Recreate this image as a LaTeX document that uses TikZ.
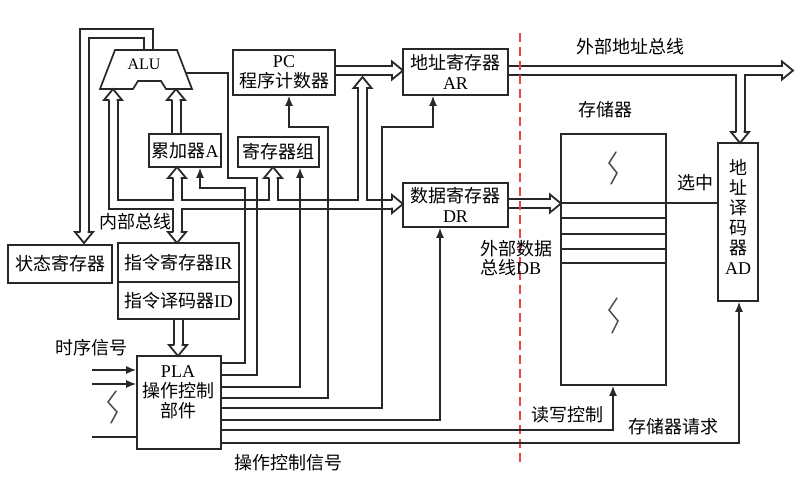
\documentclass[tikz,border=0pt]{standalone}
\usepackage{fontspec}
\setmainfont{Noto Sans CJK SC}
\newfontfamily\lat{Liberation Serif}
\usetikzlibrary{arrows.meta,calc}
\definecolor{dashred}{RGB}{232,70,70}
\definecolor{ink}{RGB}{40,40,40}
\tikzset{
  busarrow/.pic={
    \fill[white] (0pt,0pt) -- (-11pt,9pt) -- (-11pt,-9pt) -- cycle;
    \draw[ink, line width=1.8pt, line join=miter] (-11pt,3.6pt) -- (-11pt,9pt) -- (0pt,0pt) -- (-11pt,-9pt) -- (-11pt,-3.6pt);
  }
}
\begin{document}
\begin{tikzpicture}[x=1pt,y=-1pt,
  box/.style={draw=ink, line width=1.7pt, fill=white, inner sep=0pt, align=center,
              font=\fontsize{18}{20}\selectfont},
  ctl/.style={draw=ink, line width=1.5pt},
  carrow/.style={ctl, -{Latex[length=10pt,width=8pt]}},
  lbl/.style={inner sep=0pt, align=center, font=\fontsize{18}{20}\selectfont},
  lbll/.style={lbl, align=left, anchor=west},
  busblack/.style={line width=11pt, draw=ink},
  buswhite/.style={line width=7pt, draw=white},
  squig/.style={draw=black!70, line width=1.5pt, line cap=round}
]
\useasboundingbox (0,0) rectangle (800,479);

% ---------- hollow buses (outer black, then inner white) ----------
\foreach \s in {busblack,buswhite}{
  \draw[\s] (148.5,52) -- (148.5,33.5) -- (84,33.5) -- (84,232);      % ALU -> status register
  \draw[\s] (113,100) -- (113,204) -- (392,204);                       % internal bus -> DR
  \draw[\s] (177,178) -- (177,232);                                   % bus <-> acc / IR
  \draw[\s] (176,140) -- (176,100);                                   % acc -> ALU
  \draw[\s] (273,204) -- (273,178);                                   % bus -> register file
  \draw[\s] (362.5,204) -- (362.5,88);                                % bus -> AR bus
  \draw[\s] (325,70.5) -- (392,70.5);                                 % PC -> AR
  \draw[\s] (500,70.5) -- (782,70.5);                                 % external address bus
  \draw[\s] (740,70.5) -- (740,132);                                  % -> AD
  \draw[\s] (500,203.5) -- (550,203.5);                               % DR -> memory
  \draw[\s] (178,310) -- (178,345);                                   % ID -> PLA
}

% ---------- boxes ----------
\draw[ink, line width=1.7pt, fill=white, line join=miter]
  (115,50) -- (177,50) -- (192,89) -- (166,89) -- (161,81) -- (138,81) -- (133,89) -- (100,89) -- cycle;
\coordinate (alu) at (146,66);
\node[inner sep=0pt, font=\lat\fontsize{16}{17}\selectfont] (alutext) at (144,64) {ALU};

\node[box, minimum width=102pt, minimum height=45pt] (pc) at (284,72.5) {{\lat PC}\\程序计数器};
\node[box, minimum width=105pt, minimum height=46pt] (ar) at (455.5,72) {地址寄存器\\{\lat AR}};
\node[box, minimum width=105pt, minimum height=44pt] (dr) at (455.5,205) {数据寄存器\\{\lat DR}};
\node[box, minimum width=72pt, minimum height=33pt] (acc) at (185,150.5) {累加器{\lat A}};
\node[box, minimum width=81pt, minimum height=30pt] (regs) at (278.5,152) {寄存器组};
\node[box, line width=2.6pt, minimum width=104pt, minimum height=38pt] (sr) at (60,264) {状态寄存器};
\node[box, minimum width=121pt, minimum height=39pt] (ir) at (178.5,262.5) {指令寄存器{\lat IR}};
\node[box, minimum width=121pt, minimum height=37pt] (id) at (178.5,300.5) {指令译码器{\lat ID}};
\node[box, minimum width=84pt, minimum height=93pt] (pla) at (179,402.5) {};
\node[lbl] (platext) at (178,392) {{\lat PLA}\\操作控制\\部件};
\node[box, minimum width=105pt, minimum height=251pt] (mem) at (613.5,259.5) {};
\node[box, minimum width=40pt, minimum height=158pt] (ad) at (738,222) {};
\node[lbl] (adtext) at (738,217) {地\\址\\译\\码\\器\\{\lat AD}};

% memory rows
\foreach \yy in {203,218,234,249,263}
  \draw[ink, line width=1.4pt] (mem.west |- 0,\yy) -- (mem.east |- 0,\yy);

% squiggles
\draw[squig] (616,152) -- (609,163) -- (617,173) -- (611,184);
\draw[squig] (617,298) -- (609,310) -- (618,321) -- (612,333);
\draw[squig] (116,391) -- (108,402) -- (117,412) -- (111,423);

% ---------- red dashed boundary ----------
\coordinate (dtop) at (520,33);
\coordinate (dbot) at (520,463);
\draw[dashred, line width=1.7pt, dash pattern=on 9pt off 5pt] (dtop) -- (dbot);

% ---------- control lines ----------
\draw[carrow] (pla.east |- 0,363) -- (245,363) -- (245,188) -- (200,188) -- (acc.south -| 200,0);
\draw[ctl] (pla.east |- 0,375) -- (257,375) -- (257,178) -- (228,178) -- (228,73) -- (185,73);
\draw[carrow] (pla.east |- 0,387) -- (300,387) -- (regs.south -| 300,0);
\draw[carrow] (pla.east |- 0,398) -- (328,398) -- (328,127) -- (289,127) -- (pc.south -| 289,0);
\draw[carrow] (pla.east |- 0,408) -- (382,408) -- (382,127) -- (433,127) -- (ar.south -| 433,0);
\draw[carrow] (pla.east |- 0,420) -- (440,420) -- (dr.south -| 440,0);
\draw[carrow] (pla.east |- 0,430) -- (613,430) -- (mem.south -| 613,0);
\draw[carrow] (pla.east |- 0,443) -- (739,443) -- (ad.south -| 739,0);
\draw[ctl] (mem.east |- 0,203) -- (ad.west |- 0,203);

\coordinate (t1) at (92,370);
\coordinate (t2) at (92,384);
\coordinate (t3) at (92,437);
\draw[carrow] (t1) -- (pla.west |- t1);
\draw[carrow] (t2) -- (pla.west |- t2);
\draw[ctl] (t3) -- (pla.west |- t3);

% ---------- bus arrowheads ----------
\pic[rotate=-90] at (84,243) {busarrow};
\pic[rotate=90] at (113,89) {busarrow};
\pic[rotate=90] at (176,89) {busarrow};
\pic[rotate=90] at (177,167) {busarrow};
\pic[rotate=-90] at (177,243) {busarrow};
\pic[rotate=90] at (273,167) {busarrow};
\pic[rotate=90] at (362.5,77) {busarrow};
\pic at (403,70.5) {busarrow};
\pic at (403,204) {busarrow};
\pic at (793,70.5) {busarrow};
\pic[rotate=-90] at (740,143) {busarrow};
\pic at (561,203.5) {busarrow};
\pic[rotate=-90] at (178,356) {busarrow};

% ---------- free labels ----------
\node[lbl] (l1) at (630,47) {外部地址总线};
\node[lbl] (l2) at (605,110) {存储器};
\node[lbl] (l3) at (695,183) {选中};
\node[lbll] (l4) at (480,249) {外部数据};
\node[lbll] (l5) at (480,268) {总线{\lat DB}};
\node[lbl] (l6) at (567,415) {读写控制};
\node[lbl] (l7) at (673,427) {存储器请求};
\node[lbl] (l8) at (288,463) {操作控制信号};
\node[lbl] (l9) at (91,348) {时序信号};
\node[lbl] (l10) at (135,222) {内部总线};
\end{tikzpicture}
\end{document}
